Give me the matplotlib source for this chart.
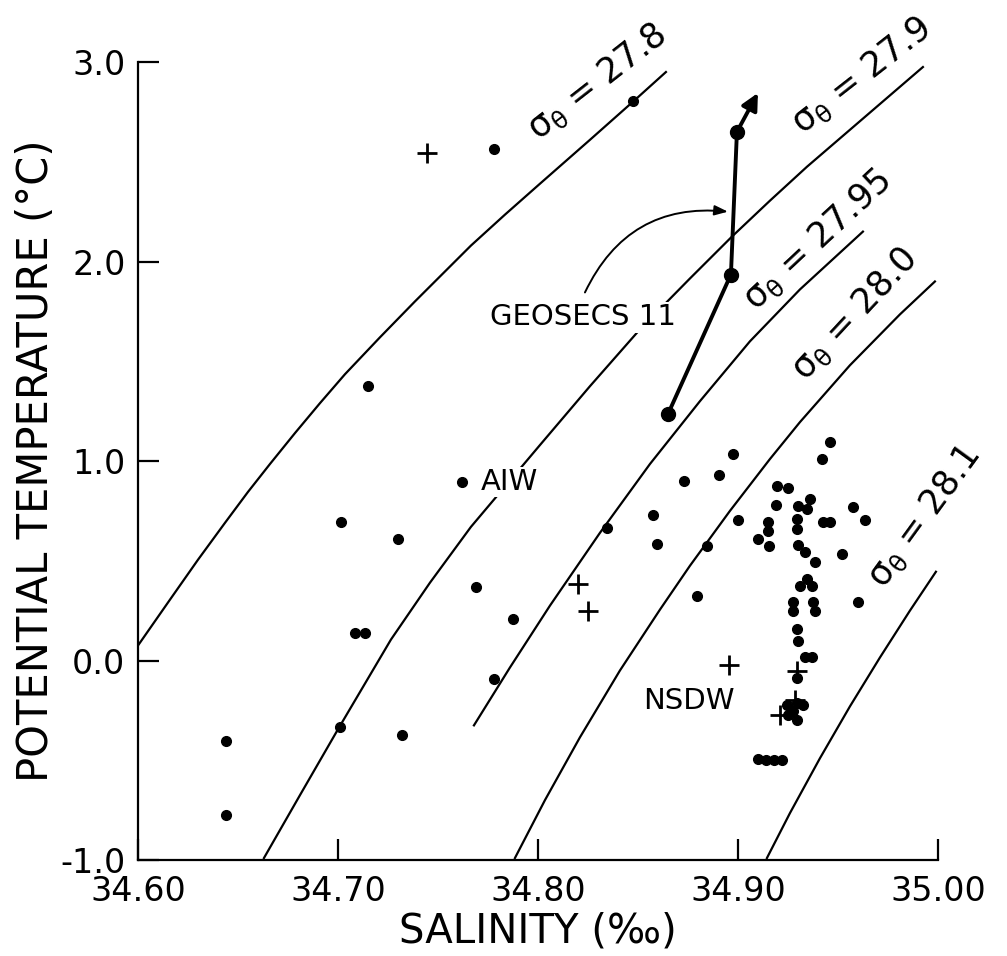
import numpy as np
import matplotlib
matplotlib.use("Agg")
import matplotlib.pyplot as plt

plt.rcParams['font.family'] = ['DejaVu Sans']
plt.rcParams['axes.unicode_minus'] = False

# isopycnals (salinity, potential temperature)
sig278_s = [34.600, 34.616, 34.630, 34.6435, 34.655, 34.666, 34.6785, 34.691, 34.7035,
            34.721, 34.7385, 34.7535, 34.7665, 34.7835, 34.801, 34.826, 34.8485, 34.864]
sig278_t = [0.075, 0.305, 0.505, 0.69, 0.845, 0.985, 1.14, 1.29, 1.435,
            1.62, 1.80, 1.95, 2.08, 2.235, 2.39, 2.61, 2.81, 2.95]
sig279_s = [34.663, 34.681, 34.700, 34.7265, 34.746, 34.7665, 34.801, 34.826, 34.851,
            34.876, 34.897, 34.916, 34.9345, 34.9635, 34.9925]
sig279_t = [-0.99, -0.675, -0.345, 0.105, 0.39, 0.67, 1.08, 1.375, 1.66,
            1.915, 2.125, 2.305, 2.475, 2.725, 2.975]
sig2795_s = [34.768, 34.786, 34.806, 34.831, 34.856, 34.881, 34.906, 34.931, 34.9625]
sig2795_t = [-0.325, -0.035, 0.275, 0.64, 0.985, 1.30, 1.60, 1.86, 2.15]
sig280_s = [34.7885, 34.8035, 34.821, 34.841, 34.861, 34.876, 34.896, 34.916, 34.931,
            34.956, 34.981, 34.9985]
sig280_t = [-0.99, -0.70, -0.385, -0.05, 0.255, 0.475, 0.75, 1.01, 1.195,
            1.48, 1.735, 1.90]
sig281_s = [34.9145, 34.926, 34.941, 34.956, 34.971, 34.986, 34.999]
sig281_t = [-0.99, -0.765, -0.49, -0.23, 0.015, 0.25, 0.445]

curves = [(sig278_s, sig278_t), (sig279_s, sig279_t), (sig2795_s, sig2795_t),
          (sig280_s, sig280_t), (sig281_s, sig281_t)]
curve_labels = ['27.8', '27.9', '27.95', '28.0', '28.1']

# station data
dot_s = [34.8475, 34.778, 34.715, 34.762, 34.7015, 34.730, 34.769, 34.7085, 34.7135,
         34.7875, 34.778, 34.701, 34.732, 34.644, 34.644, 34.8345, 34.8575, 34.8595,
         34.873, 34.8905, 34.8975, 34.900, 34.8845, 34.8795, 34.946, 34.942, 34.9575,
         34.9635, 34.952, 34.960,
         34.9195, 34.925, 34.919, 34.930, 34.936, 34.9345, 34.9295, 34.9295, 34.9425,
         34.946, 34.915, 34.915, 34.910, 34.9155, 34.930, 34.9335, 34.9385, 34.9345,
         34.931, 34.937, 34.9275, 34.9275, 34.9375, 34.9385, 34.9295, 34.930, 34.9335,
         34.937, 34.9295, 34.9245, 34.9295, 34.9325, 34.925, 34.9295, 34.9275,
         34.910, 34.914, 34.918, 34.922]
dot_t = [2.805, 2.565, 1.375, 0.895, 0.695, 0.61, 0.37, 0.14, 0.14,
         0.21, -0.095, -0.335, -0.375, -0.405, -0.775, 0.665, 0.73, 0.585,
         0.90, 0.93, 1.035, 0.705, 0.575, 0.325, 1.095, 1.01, 0.77,
         0.705, 0.535, 0.295,
         0.875, 0.865, 0.78, 0.775, 0.81, 0.76, 0.71, 0.66, 0.695,
         0.695, 0.695, 0.65, 0.61, 0.575, 0.58, 0.545, 0.495, 0.41,
         0.375, 0.375, 0.295, 0.25, 0.295, 0.25, 0.16, 0.10, 0.02,
         0.02, -0.09, -0.225, -0.215, -0.225, -0.275, -0.30, -0.255,
         -0.495, -0.50, -0.50, -0.50]
plus_s = [34.7445, 34.820, 34.825, 34.8955, 34.9295, 34.921, 34.9285]
plus_t = [2.545, 0.385, 0.25, -0.02, -0.055, -0.275, -0.20]

geosecs_s = [34.865, 34.8965, 34.8995]
geosecs_t = [1.235, 1.935, 2.65]
geosecs_tip = (34.910, 2.845)

fig = plt.figure(figsize=(10.07, 9.56), dpi=100)
ax = fig.add_axes([0.137, 0.1004, 0.7944, 0.8347])

for (s, t) in curves:
    ax.plot(s, t, color='k', lw=1.6, zorder=1)

ax.plot(dot_s, dot_t, 'o', color='k', ms=7, zorder=3)
ax.plot(plus_s, plus_t, '+', color='k', ms=15, mew=2.0, zorder=3)

ax.plot(geosecs_s, geosecs_t, '-o', color='k', lw=2.8, ms=10, zorder=4)
ax.annotate('', xy=geosecs_tip, xytext=(geosecs_s[-1], geosecs_t[-1]),
            arrowprops=dict(arrowstyle='-|>,head_length=1.0,head_width=0.5',
                            lw=2.8, color='k', shrinkA=0, shrinkB=0), zorder=4)
ax.annotate('', xy=(34.895, 2.25), xytext=(34.8235, 1.845),
            arrowprops=dict(arrowstyle='-|>,head_length=0.8,head_width=0.3',
                            lw=1.4, color='k', shrinkA=0, shrinkB=0,
                            connectionstyle='arc3,rad=-0.35'))

ax.text(34.8225, 1.72, 'GEOSECS 11', fontsize=21, ha='center', va='center',
        bbox=dict(facecolor='white', edgecolor='none', pad=1), zorder=2)
ax.text(34.7855, 0.895, 'AIW', fontsize=21, ha='center', va='center',
        bbox=dict(facecolor='white', edgecolor='none', pad=1), zorder=2)
ax.text(34.8755, -0.205, 'NSDW', fontsize=21, ha='center', va='center', zorder=2)

# isopycnal labels
lab_pos = [(34.8295, 2.90, 38), (34.962, 2.93, 38), (34.94, 2.11, 43),
           (34.9585, 1.735, 47), (34.9935, 0.72, 54)]
for lab, (x, y, rot) in zip(curve_labels, lab_pos):
    ax.text(x, y, r'$\mathrm{\sigma_{\theta}}$ = ' + lab, fontsize=25,
            rotation=rot, rotation_mode='anchor', ha='center', va='center',
            clip_on=False)

ax.set_xlim(34.6, 35.0)
ax.set_ylim(-1.0, 3.0)
ax.set_xticks([34.6, 34.7, 34.8, 34.9, 35.0])
ax.set_xticklabels(['34.60', '34.70', '34.80', '34.90', '35.00'])
ax.set_yticks([-1, 0, 1, 2, 3])
ax.set_yticklabels(['-1.0', '0.0', '1.0', '2.0', '3.0'])
ax.tick_params(direction='in', length=15, width=1.6, labelsize=24)
ax.tick_params(axis='x', pad=11)
ax.tick_params(axis='y', pad=9)
ax.spines['top'].set_visible(False)
ax.spines['right'].set_visible(False)
ax.spines['left'].set_linewidth(1.6)
ax.spines['bottom'].set_linewidth(1.6)

ax.set_xlabel('SALINITY (‰)', fontsize=29, labelpad=2)
ax.set_ylabel('POTENTIAL TEMPERATURE (°C)', fontsize=30, labelpad=2)

fig.savefig('out.png', dpi=100)
